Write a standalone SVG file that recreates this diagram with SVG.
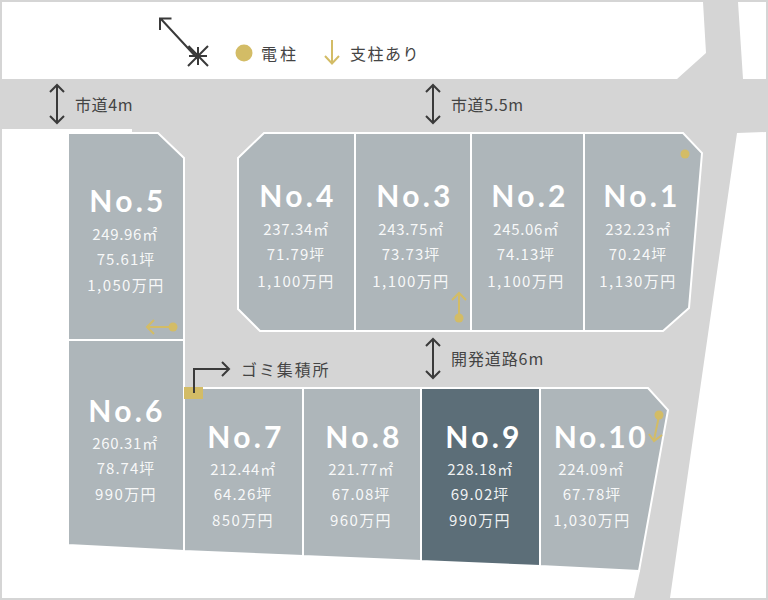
<svg xmlns="http://www.w3.org/2000/svg" width="768" height="600" viewBox="0 0 768 600">
<style>
.road{fill:#d5d5d5}
.plot{fill:#aeb6ba;stroke:#fff;stroke-width:2}
.dark{fill:#5c6e78}
.no{font-family:"Lato","Liberation Sans",sans-serif;font-size:30px;font-weight:700;fill:#fff;text-anchor:middle;letter-spacing:3.300px}
.info{font-family:"Noto Sans CJK JP","Noto Sans",sans-serif;font-size:15px;font-weight:400;fill:#fff;fill-opacity:.92;text-anchor:middle;letter-spacing:1.400px}
.a{letter-spacing:.7px}
.t{letter-spacing:1px}
.lbl{font-family:"Noto Sans CJK JP","Noto Sans",sans-serif;font-size:16px;font-weight:400;fill:#444;letter-spacing:.6px}
.blk{fill:none;stroke:#3a3a3a;stroke-width:2}
.gld{fill:none;stroke:#d3bc66;stroke-width:2}
.dot{fill:#d3bc66}
</style>
<rect width="768" height="600" fill="#fff"/>
<rect x="1" y="1" width="766" height="598" fill="none" stroke="#d5d5d5" stroke-width="2"/>
<polygon class="road" points="2,79 677,79 706,53 703,2 738,2 743,79 766,79 766,132 737,133 670,598 634,598 640,571 150,540 150,133 132,133 132,129 2,129"/>
<g id="legend">
<path class="blk" d="M198,59 L161,19 M160,30 V18.500 H171.500 M188.500,46 L208,66 M208,46 L188,66 M198,47 V65 M189,56 H207"/>
<circle class="dot" cx="244" cy="53" r="8.500"/>
<text class="lbl" x="261" y="60" style="letter-spacing:3px">電柱</text>
<path class="gld" d="M332,40 V63 M325,56 L332,63.500 L339,56"/>
<text class="lbl" x="350" y="60" style="letter-spacing:1.500px">支柱あり</text>
</g>
<g id="connectors">
<path class="blk" d="M57,85 V123 M50,92 L57,85 L64,92 M50,116 L57,123 L64,116"/>
<path class="blk" d="M433,85 V123 M426,92 L433,85 L440,92 M426,116 L433,123 L440,116"/>
<path class="blk" d="M433,339 V378 M426,346 L433,339 L440,346 M426,371 L433,378 L440,371"/>
<path class="blk" d="M194,393 V369 H229 M222,362 L229,369 L222,376"/>
</g>
<text class="lbl" x="75" y="111">市道4m</text>
<text class="lbl" x="451" y="111">市道5.5m</text>
<text class="lbl" x="451" y="365" style="letter-spacing:.9px">開発道路6m</text>
<text class="lbl" x="241" y="376" style="letter-spacing:1.900px">ゴミ集積所</text>
<g id="plot-1"><polygon class="plot" points="584,133 683,133 702,153 689,308 663,331 584,331"/>
<text class="no" x="642" y="207">No.1</text><text class="info a" x="638" y="235">232.23㎡</text><text class="info t" x="638" y="260">70.24坪</text><text class="info" x="638" y="287">1,130万円</text>
<circle class="dot" cx="685" cy="154" r="4.500"/></g>
<g id="plot-2"><rect class="plot" x="471" y="133" width="113" height="198"/>
<text class="no" x="530" y="207">No.2</text><text class="info a" x="526" y="235">245.06㎡</text><text class="info t" x="526" y="260">74.13坪</text><text class="info" x="526" y="287">1,100万円</text></g>
<g id="plot-3"><rect class="plot" x="355" y="133" width="116" height="198"/>
<text class="no" x="415" y="207">No.3</text><text class="info a" x="411" y="235">243.75㎡</text><text class="info t" x="411" y="260">73.73坪</text><text class="info" x="411" y="287">1,100万円</text>
<path class="gld" d="M459,318 V293 M452,300 L459,293 L466,300"/><circle class="dot" cx="459" cy="318" r="4.500"/></g>
<g id="plot-4"><polygon class="plot" points="238,158 264,133 355,133 355,331 260,331 238,309"/>
<text class="no" x="298" y="207">No.4</text><text class="info a" x="296" y="235">237.34㎡</text><text class="info t" x="296" y="260">71.79坪</text><text class="info" x="296" y="287">1,100万円</text></g>
<g id="plot-5"><polygon class="plot" points="68,133 158,133 184,158 184,340 68,340"/>
<text class="no" x="128" y="212">No.5</text><text class="info a" x="125" y="240">249.96㎡</text><text class="info t" x="126" y="265">75.61坪</text><text class="info" x="126" y="291">1,050万円</text>
<path class="gld" d="M173,327 H147 M154,320 L147,327 L154,334"/><circle class="dot" cx="173" cy="327" r="4.500"/></g>
<g id="plot-6"><polygon class="plot" points="68,340 184,340 184,551 68,545"/>
<text class="no" x="127" y="422">No.6</text><text class="info a" x="125" y="449">260.31㎡</text><text class="info t" x="126" y="474">78.74坪</text><text class="info" x="126" y="500">990万円</text></g>
<g id="plot-7"><polygon class="plot" points="184,388 303,388 303,556 184,551"/>
<text class="no" x="246" y="448">No.7</text><text class="info a" x="243" y="475">212.44㎡</text><text class="info t" x="243" y="500">64.26坪</text><text class="info" x="243" y="526">850万円</text></g>
<g id="plot-8"><polygon class="plot" points="303,388 421,388 421,561 303,556"/>
<text class="no" x="364" y="448">No.8</text><text class="info a" x="361" y="475">221.77㎡</text><text class="info t" x="361" y="500">67.08坪</text><text class="info" x="361" y="526">960万円</text></g>
<g id="plot-9"><polygon class="plot dark" points="421,388 540,388 540,566 421,561"/>
<text class="no" x="484" y="448">No.9</text><text class="info a" x="480" y="475">228.18㎡</text><text class="info t" x="480" y="500">69.02坪</text><text class="info" x="480" y="526">990万円</text></g>
<g id="plot-10"><polygon class="plot" points="540,388 648,388 668,410 639,571 540,566"/>
<text class="no" x="601" y="448" style="letter-spacing:2.500px">No.10</text><text class="info a" x="591" y="475">224.09㎡</text><text class="info t" x="592" y="500">67.78坪</text><text class="info" x="592" y="526">1,030万円</text>
<path class="gld" d="M659,416 L654,440 M649,434 L654,441 L662,435"/><circle class="dot" cx="659" cy="415" r="4.500"/></g>
<g id="garbage"><rect class="dot" x="184" y="387" width="19" height="12"/><path class="blk" d="M194,393 V381"/></g>
</svg>
